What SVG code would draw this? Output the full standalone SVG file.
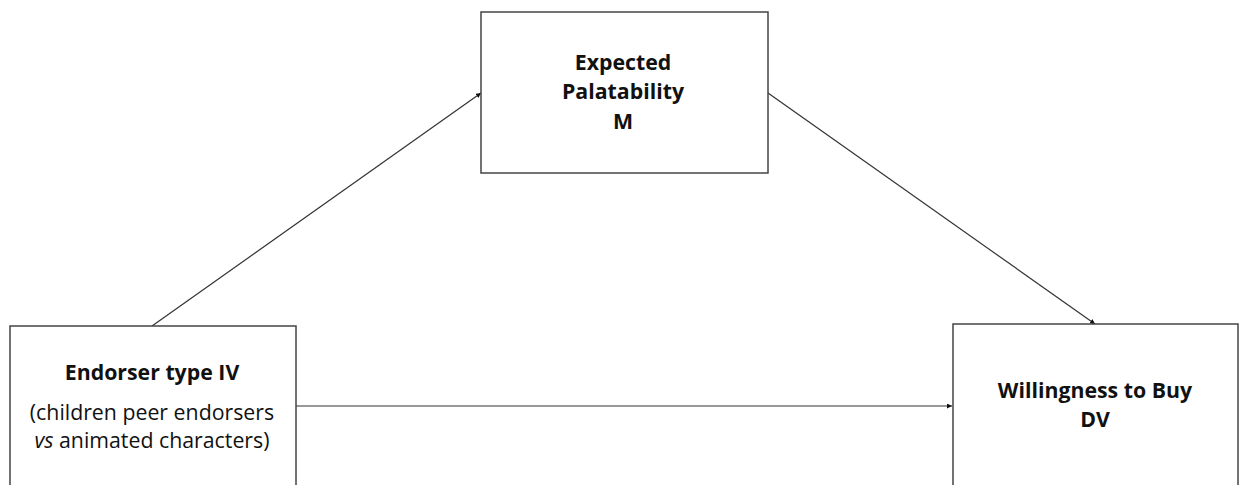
<svg xmlns="http://www.w3.org/2000/svg" width="1239" height="485" viewBox="0 0 1239 485">
<style>
.box{fill:#fff;stroke:#444;stroke-width:1.5}
.con{stroke:#333;stroke-width:1.2;fill:none;marker-end:url(#ah)}
text{font-family:"Open Sans","Liberation Sans",sans-serif;font-size:21.3px;fill:#111;text-anchor:middle}
.b{font-weight:bold}
</style>
<defs>
<marker id="ah" viewBox="0 0 6 6" refX="6" refY="3" markerWidth="5" markerHeight="5" orient="auto" markerUnits="userSpaceOnUse">
<path d="M0,0 L6,3 L0,6 Z" fill="#111"/>
</marker>
</defs>
<rect width="1239" height="485" fill="#fff"/>
<g id="connectors">
<line class="con" x1="152" y1="326" x2="481" y2="93"/>
<line class="con" x1="768" y1="93" x2="1095" y2="324"/>
<line class="con" x1="296" y1="406" x2="952" y2="406"/>
</g>
<g id="node-m">
<rect class="box" x="481" y="12" width="287" height="161"/>
<text class="b" x="623" y="70">Expected</text>
<text class="b" x="623" y="99">Palatability</text>
<text class="b" x="623" y="129">M</text>
</g>
<g id="node-iv">
<rect class="box" x="10" y="326" width="286" height="170"/>
<text class="b" x="152" y="380">Endorser type IV</text>
<text x="152" y="420">(children peer endorsers</text>
<text x="152" y="448"><tspan font-style="italic">vs</tspan> animated characters)</text>
</g>
<g id="node-dv">
<rect class="box" x="953" y="324" width="285" height="170"/>
<text class="b" x="1095" y="398">Willingness to Buy</text>
<text class="b" x="1095" y="427">DV</text>
</g>
</svg>
